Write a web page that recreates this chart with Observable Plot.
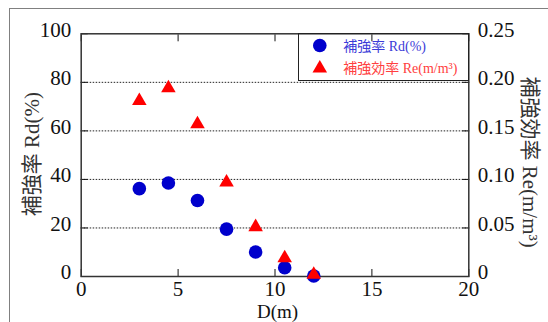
<!DOCTYPE html>
<html>
<head>
<meta charset="utf-8">
<script src="https://cdn.jsdelivr.net/npm/d3@7"></script>
<script src="https://cdn.jsdelivr.net/npm/@observablehq/plot@0.6"></script>
<style>
  html, body { margin: 0; padding: 0; background: #fff; overflow: hidden; }
  #wrap { position: relative; width: 548px; height: 322px; overflow: hidden; }
  #border { position: absolute; left: 9px; top: 7.5px; width: 620px; height: 400px; border: 1.5px solid #808080; box-sizing: border-box; }
  #legendBox { position: absolute; left: 298px; top: 33px; width: 171px; height: 47.5px; border: 1px solid #222; box-sizing: border-box; }
  svg { position: absolute; left: 0; top: 0; }
  svg text { font-family: "Liberation Serif", "Noto Sans CJK JP", serif; }
</style>
</head>
<body>
<div id="wrap"><div id="border"></div><div id="chart"></div><div id="legendBox"></div></div>
<script>
// Data
const xValues = [3, 4.5, 6, 7.5, 9, 10.5, 12];          // D (m)
const rdValues = [36.2, 38.5, 31.3, 19.5, 10.1, 3.6, 0.2]; // 補強率 Rd (%)
const reValues = [0.181, 0.194, 0.157, 0.097, 0.051, 0.019, 0.002]; // 補強効率 Re (m/m³)
const xTicks = [0, 5, 10, 15, 20];
const leftTicks = [0, 20, 40, 60, 80, 100];
const rightTickLabels = ["0", "0.05", "0.10", "0.15", "0.20", "0.25"];
const gridValues = [20, 40, 60, 80];
const reMax = 0.25; // right axis top, aligned with left 100
const leftMax = 100;
const xLabel = "D(m)";
const leftLabel = "補強率 Rd(%)";
const rightLabel = "補強効率 Re(m/m³)";
const legendRd = "補強率 Rd(%)";
const legendRe = "補強効率 Re(m/m³)";

const rdData = xValues.map((x, i) => ({x, y: rdValues[i]}));
const reData = xValues.map((x, i) => ({x, y: reValues[i] / reMax * leftMax}));

const font = "Liberation Serif, Noto Sans CJK JP, serif";
const blue = "#0000cc";
const red = "#ff0000";

const chart = Plot.plot({
  width: 548,
  height: 322,
  marginLeft: 80.7,
  marginRight: 79.7,
  marginTop: 33.3,
  marginBottom: 46,
  x: {domain: [0, 20]},
  y: {domain: [0, leftMax]},
  style: {fontFamily: font, fontSize: "21px", color: "#111", background: "transparent", overflow: "visible"},
  marks: [
    Plot.ruleY(gridValues, {stroke: "#222", strokeDasharray: "1.5,1.5", strokeWidth: 1}),
    // inward ticks
    Plot.axisX({anchor: "bottom", ticks: xTicks, tickSize: 7, dy: -7, tickFormat: () => "", label: null, stroke: "#111"}),
    Plot.axisX({anchor: "top", ticks: xTicks, tickSize: 7, dy: 7, tickFormat: () => "", label: null, stroke: "#111"}),
    Plot.axisY({anchor: "left", ticks: leftTicks, tickSize: 7, dx: 7, tickFormat: () => "", label: null, stroke: "#111"}),
    Plot.axisY({anchor: "right", ticks: leftTicks, tickSize: 7, dx: -7, tickFormat: () => "", label: null, stroke: "#111"}),
    // tick labels
    Plot.axisX({anchor: "bottom", ticks: xTicks, tickSize: 0, tickPadding: 5, label: null, fontSize: 21, fill: "#111"}),
    Plot.axisY({anchor: "left", ticks: leftTicks, tickSize: 0, tickPadding: 10, dy: -4, label: null, fontSize: 21, fill: "#111"}),
    Plot.axisY({anchor: "right", ticks: leftTicks, tickSize: 0, tickPadding: 9, dy: -4, label: null, fontSize: 21, fill: "#111",
      tickFormat: d => rightTickLabels[leftTicks.indexOf(d)]}),
    Plot.frame({stroke: "#333", strokeWidth: 1.5}),
    // data
    Plot.dot(rdData, {x: "x", y: "y", r: 6.8, fill: blue, symbol: "circle"}),
    Plot.dot(reData, {x: "x", y: "y", r: 5.4, fill: red, symbol: "triangle"}),
    // axis titles
    Plot.text([xLabel], {frameAnchor: "bottom", textAnchor: "middle", lineAnchor: "middle", dx: 2.5, dy: 35.5, fontSize: 19, fill: "#111"}),
    Plot.text([leftLabel], {frameAnchor: "left", textAnchor: "middle", lineAnchor: "middle", rotate: -90, dx: -48.7, dy: -1, fontSize: 21, fill: "#333"}),
    Plot.text([rightLabel], {frameAnchor: "right", textAnchor: "middle", lineAnchor: "middle", rotate: 90, dx: 61, dy: 7, fontSize: 21, fill: "#333"}),
    // legend
    Plot.dot([0], {frameAnchor: "top-right", dx: -149, dy: 11.7, r: 6.8, fill: blue, symbol: "circle"}),
    Plot.dot([0], {frameAnchor: "top-right", dx: -149, dy: 34.5, r: 5.4, fill: red, symbol: "triangle"}),
    Plot.text([legendRd], {frameAnchor: "top-right", dx: -125.6, dy: 12.4, textAnchor: "start", lineAnchor: "middle", fontSize: 14, fill: "#3c3cd8"}),
    Plot.text([legendRe], {frameAnchor: "top-right", dx: -125.6, dy: 34.5, textAnchor: "start", lineAnchor: "middle", fontSize: 14, fill: "#ff4040"})
  ]
});
document.getElementById("chart").appendChild(chart);
</script>
</body>
</html>
